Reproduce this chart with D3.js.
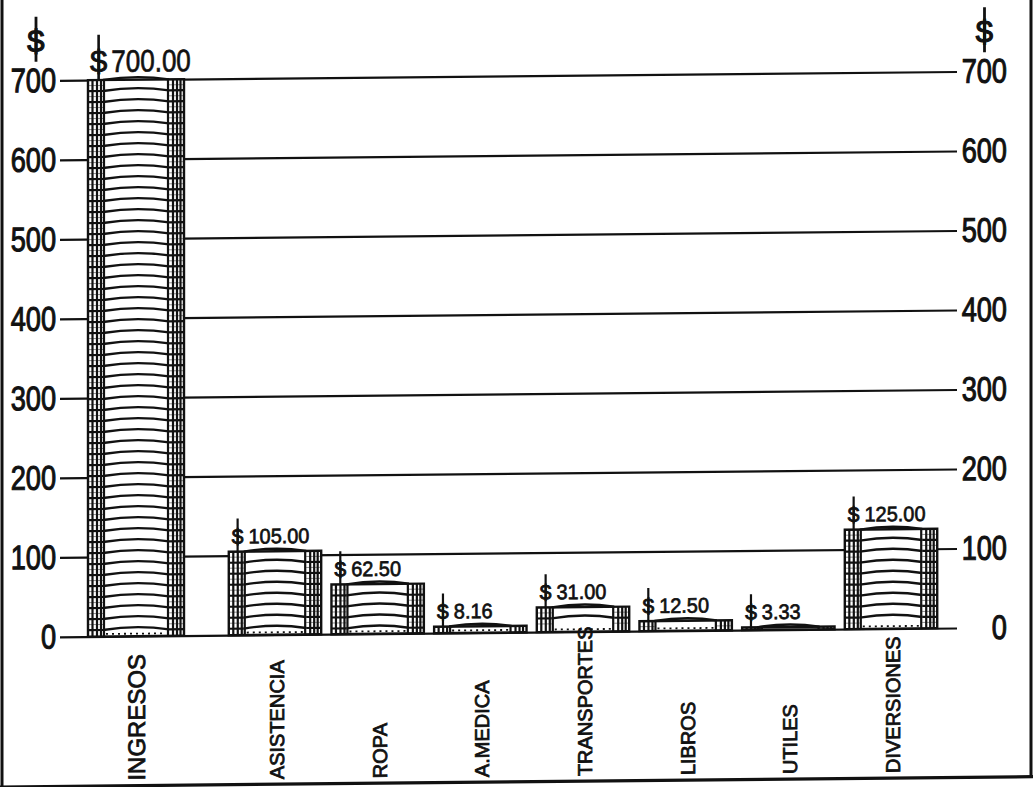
<!DOCTYPE html>
<html>
<head>
<meta charset="utf-8">
<script src="https://cdn.jsdelivr.net/npm/d3@7"></script>
<style>
  body { margin: 0; background: #fff; }
  svg { display: block; }
  text { font-family: "Liberation Sans", Arial, sans-serif; fill: #111; }
</style>
</head>
<body>
<svg id="chart" width="1035" height="787"></svg>
<script>
// Monthly budget: income against each expense item
const incomeCategories = ["INGRESOS"];
const incomeValues = [700.00];
const expenseCategories = ["ASISTENCIA", "ROPA", "A.MEDICA", "TRANSPORTES", "LIBROS", "UTILES", "DIVERSIONES"];
const expenseValues = [105.00, 62.50, 8.16, 31.00, 12.50, 3.33, 125.00];
const tickValues = [0, 100, 200, 300, 400, 500, 600, 700];
const currencySymbol = "$";

const ink = "#111";

const svg = d3.select("#chart");
// the whole sheet sits with a slight skew
const root = svg.append("g").attr("transform", "skewY(-0.57)");

const y = d3.scaleLinear().domain([0, 700]).range([637.5, 81]);
const xIncome = d3.scaleBand().domain(incomeCategories).range([84, 188]).padding(0.04);
const xExpense = d3.scaleBand().domain(expenseCategories).range([223.65, 942.35])
  .paddingInner(0.1).paddingOuter(0.05);

const gridLeft = 60, gridRight = 957;

// frame
root.append("line").attr("x1", 2).attr("x2", 2).attr("y1", -20).attr("y2", 800)
  .attr("stroke", ink).attr("stroke-width", 3);
root.append("line").attr("x1", 1031).attr("x2", 1031).attr("y1", -20).attr("y2", 787)
  .attr("stroke", ink).attr("stroke-width", 3);
root.append("line").attr("x1", 0).attr("x2", 1033).attr("y1", 787).attr("y2", 787)
  .attr("stroke", ink).attr("stroke-width", 3.2);

// axes with gridlines
const tickScaleX = 0.8;
const leftAxis = root.append("g").attr("transform", `translate(${gridLeft},0)`)
  .call(d3.axisLeft(y).tickValues(tickValues).tickFormat(d3.format("d"))
    .tickSizeInner(-(gridRight - gridLeft)).tickSizeOuter(0).tickPadding(3));
leftAxis.select(".domain").remove();
leftAxis.selectAll(".tick line").attr("stroke", ink).attr("stroke-width", 2.2);
leftAxis.selectAll(".tick text")
  .style("font-family", "'Liberation Sans', Arial, sans-serif")
  .attr("font-size", 34).attr("fill", ink).attr("stroke", ink).attr("stroke-width", 1.1)
  .attr("x", -4 / tickScaleX)
  .attr("transform", `scale(${tickScaleX},1)`);

const rightAxis = root.append("g").attr("transform", `translate(${gridRight},0)`)
  .call(d3.axisRight(y).tickValues(tickValues).tickFormat(d3.format("d"))
    .tickSize(0));
rightAxis.select(".domain").remove();
rightAxis.selectAll(".tick text")
  .style("font-family", "'Liberation Sans', Arial, sans-serif")
  .attr("font-size", 34).attr("fill", ink).attr("stroke", ink).attr("stroke-width", 1.1)
  .attr("text-anchor", "end")
  .attr("x", 50 / tickScaleX)
  .attr("transform", `scale(${tickScaleX},1)`);

// currency marks above both axes
function currencyMark(cx) {
  root.append("line").attr("x1", cx).attr("x2", cx).attr("y1", 17).attr("y2", 62)
    .attr("stroke", ink).attr("stroke-width", 2.8);
  root.append("text").attr("x", cx).attr("y", 52).attr("text-anchor", "middle")
    .attr("font-size", 31).attr("stroke", ink).attr("stroke-width", 1.2)
    .text(currencySymbol);
}
currencyMark(36);
currencyMark(984.5);

// barrel-style bar with ribbed side strips and curved hoops
function drawBar(x0, w, yTop, yBot) {
  const g = root.append("g");
  const strip = 15;
  g.append("rect").attr("x", x0).attr("y", yTop).attr("width", w).attr("height", yBot - yTop)
    .attr("fill", "#fff").attr("stroke", ink).attr("stroke-width", 2.4);

  const hoops = d3.range(yTop + 11, yBot - 3, 11);
  const xa = x0 + strip, xb = x0 + w - strip, xm = x0 + w / 2;
  // top cap arc
  g.append("path").attr("d", `M${xa},${yTop} Q${xm},${yTop - 5} ${xb},${yTop}`)
    .attr("fill", "none").attr("stroke", ink).attr("stroke-width", 2.4);
  hoops.forEach(hy => {
    g.append("path").attr("d", `M${xa},${hy} Q${xm},${hy - 5} ${xb},${hy}`)
      .attr("fill", "none").attr("stroke", ink).attr("stroke-width", 2.4);
    g.append("line").attr("x1", x0).attr("x2", xa).attr("y1", hy).attr("y2", hy)
      .attr("stroke", ink).attr("stroke-width", 2.2);
    g.append("line").attr("x1", xb).attr("x2", x0 + w).attr("y1", hy).attr("y2", hy)
      .attr("stroke", ink).attr("stroke-width", 2.2);
  });
  // cell divisions of the strips
  d3.range(yTop + 5.5, yBot - 2, 11).forEach(hy => {
    g.append("line").attr("x1", x0).attr("x2", xa).attr("y1", hy).attr("y2", hy)
      .attr("stroke", ink).attr("stroke-width", 0.8).attr("stroke-opacity", 0.6);
    g.append("line").attr("x1", xb).attr("x2", x0 + w).attr("y1", hy).attr("y2", hy)
      .attr("stroke", ink).attr("stroke-width", 0.8).attr("stroke-opacity", 0.6);
  });
  const verticals = [x0 + 4.5, x0 + 9, x0 + 13, xa + 1, xb - 1, x0 + w - 11, x0 + w - 7, x0 + w - 3.5];
  verticals.forEach(vx => {
    g.append("line").attr("x1", vx).attr("x2", vx).attr("y1", yTop).attr("y2", yBot)
      .attr("stroke", ink).attr("stroke-width", 2.2);
  });
  // stippled base
  if (yBot - yTop > 6) {
    g.append("line").attr("x1", xa + 3).attr("x2", xb - 3).attr("y1", yBot - 2.5).attr("y2", yBot - 2.5)
      .attr("stroke", ink).attr("stroke-width", 1.8).attr("stroke-dasharray", "2,4");
  }
}

function valueLabel(x0, yTop, value, fs, sx, gap) {
  const base = yTop - 8;
  const dollarX = x0 + 2;
  const stemX = dollarX + fs * 0.278;
  root.append("line").attr("x1", stemX).attr("x2", stemX)
    .attr("y1", base - fs * 1.2).attr("y2", yTop)
    .attr("stroke", ink).attr("stroke-width", fs > 25 ? 2.6 : 2.2);
  root.append("text").attr("x", dollarX).attr("y", base)
    .attr("font-size", fs).attr("stroke", ink).attr("stroke-width", 0.9)
    .text(currencySymbol);
  root.append("g").attr("transform", `translate(${dollarX + fs * 0.556 + gap},${base})`)
    .append("text").attr("transform", `scale(${sx},1)`)
    .attr("font-size", fs).attr("stroke", ink).attr("stroke-width", 0.7)
    .text(d3.format(".2f")(value));
}

function categoryLabel(cx, name, fs) {
  root.append("text")
    .attr("transform", `translate(${cx + 9},782) rotate(-90)`)
    .attr("text-anchor", "start")
    .attr("font-size", fs).attr("stroke", ink).attr("stroke-width", 0.8)
    .text(name);
}

// income bar
incomeCategories.forEach((c, i) => {
  const x0 = xIncome(c), w = xIncome.bandwidth();
  drawBar(x0, w, y(incomeValues[i]), y(0));
  valueLabel(x0, y(incomeValues[i]), incomeValues[i], 31, 0.84, 4);
  categoryLabel(x0 + w / 2, c, 24);
});

// expense bars
expenseCategories.forEach((c, i) => {
  const x0 = xExpense(c), w = xExpense.bandwidth();
  drawBar(x0, w, y(expenseValues[i]), y(0));
  valueLabel(x0 + 1, y(expenseValues[i]), expenseValues[i], 21, 0.95, 5);
  categoryLabel(x0 + w / 2, c, 20);
});
</script>
</body>
</html>
